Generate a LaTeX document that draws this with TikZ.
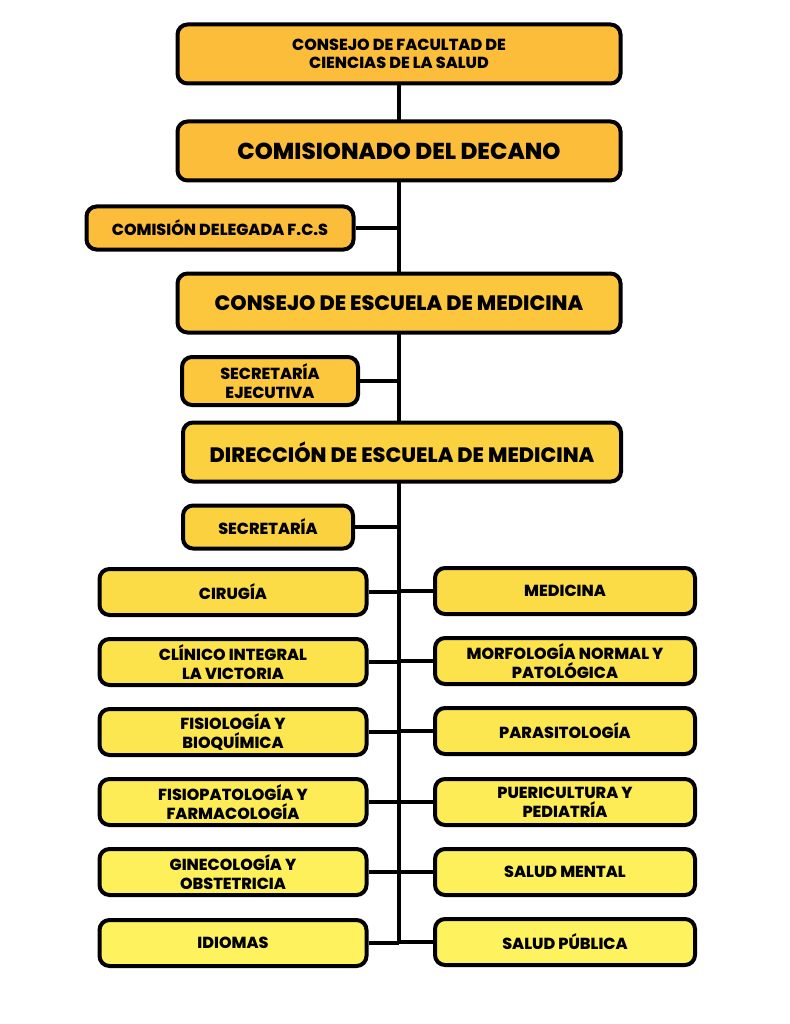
\documentclass[tikz,border=0pt]{standalone}
\usepackage{fontspec}
\setmainfont{Poppins}[BoldFont={Poppins ExtraBold}]
\usetikzlibrary{positioning,backgrounds}
\definecolor{orgA}{RGB}{251,189,58}
\definecolor{orgB}{RGB}{252,199,60}
\definecolor{orgC}{RGB}{252,209,64}
\definecolor{yelA}{RGB}{252,220,70}
\definecolor{yelB}{RGB}{252,226,75}
\definecolor{yelC}{RGB}{253,231,80}
\definecolor{yelD}{RGB}{253,236,85}
\definecolor{yelE}{RGB}{253,240,90}
\definecolor{yelF}{RGB}{254,243,94}
\tikzset{
  unit/.style={draw=black, line width=4pt, rounded corners=10pt, align=center,
    inner sep=0pt, font=\bfseries\fontsize{16}{19}\selectfont},
  bigunit/.style={unit, minimum width=443pt, minimum height=59pt,
    font=\bfseries\fontsize{20.8}{25}\selectfont},
  dept/.style={unit, minimum height=46pt},
  link/.style={line width=4pt}
}
\begin{document}
\begin{tikzpicture}[x=1pt, y=-1pt]
  \useasboundingbox (0,0) rectangle (789,1024);

  % top of the chart
  \node [bigunit, fill=orgA, font=\bfseries\fontsize{16}{18.5}\selectfont] (cfcs) at (399,54)
    {CONSEJO DE FACULTAD DE\\CIENCIAS DE LA SALUD};
  \node [bigunit, fill=orgA, font=\bfseries\fontsize{23}{25}\selectfont] (cdd) at (399,151)
    {COMISIONADO DEL DECANO};
  \node [unit, fill=orgA, minimum width=267pt, minimum height=43pt] (cdf) at (220,228)
    {COMISIÓN DELEGADA F.C.S};
  \node [bigunit, fill=orgB] (cem) at (399,303) {CONSEJO DE ESCUELA DE MEDICINA};
  \node [unit, fill=orgB, minimum width=176pt, minimum height=48pt] (sej) at (270,381)
    {SECRETARÍA\\EJECUTIVA};
  \node [bigunit, fill=orgC, minimum width=438pt] (dem) at (402,452)
    {DIRECCIÓN DE ESCUELA DE MEDICINA};
  \node [unit, fill=orgC, minimum width=170pt, minimum height=43pt] (sec) at (268,527)
    {SECRETARÍA};

  % departments, left column
  \node [dept, fill=yelA, minimum width=267pt] (cir) at (233,592) {CIRUGÍA};
  \node [dept, fill=yelB, minimum width=267pt] (cli) at (233,662) {CLÍNICO INTEGRAL\\LA VICTORIA};
  \node [dept, fill=yelC, minimum width=267pt] (fis) at (233,732) {FISIOLOGÍA Y\\BIOQUÍMICA};
  \node [dept, fill=yelD, minimum width=267pt] (fpf) at (233,802) {FISIOPATOLOGÍA Y\\FARMACOLOGÍA};
  \node [dept, fill=yelE, minimum width=267pt] (gin) at (233,872) {GINECOLOGÍA Y\\OBSTETRICIA};
  \node [dept, fill=yelF, minimum width=267pt] (idi) at (233,943) {IDIOMAS};

  % departments, right column
  \node [dept, fill=yelA, minimum width=260pt] (med) at (565,591) {MEDICINA};
  \node [dept, fill=yelB, minimum width=260pt] (mor) at (565,661) {MORFOLOGÍA NORMAL Y\\PATOLÓGICA};
  \node [dept, fill=yelC, minimum width=260pt] (par) at (565,731) {PARASITOLOGÍA};
  \node [dept, fill=yelD, minimum width=260pt] (pue) at (565,802) {PUERICULTURA Y\\PEDIATRÍA};
  \node [dept, fill=yelE, minimum width=260pt] (smn) at (565,872) {SALUD MENTAL};
  \node [dept, fill=yelF, minimum width=260pt] (spu) at (565,942) {SALUD PÚBLICA};

  \coordinate (foot) at (399,943);

  \begin{scope}[on background layer]
    % main line
    \draw [link] (cfcs.south) -- (foot);
    % side boxes
    \draw [link] (cdf.east) -- (cdf.east -| foot);
    \draw [link] (sej.east) -- (sej.east -| foot);
    \draw [link] (sec.east) -- (sec.east -| foot);
    % department rows
    \draw [link] (cir.east) -- (cir.east -| foot) (med.west) -- (med.west -| foot);
    \draw [link] (cli.east) -- (cli.east -| foot) (mor.west) -- (mor.west -| foot);
    \draw [link] (fis.east) -- (fis.east -| foot) (par.west) -- (par.west -| foot);
    \draw [link] (fpf.east) -- (fpf.east -| foot) (pue.west) -- (pue.west -| foot);
    \draw [link] (gin.east) -- (gin.east -| foot) (smn.west) -- (smn.west -| foot);
    \draw [link] (idi.east) -- (idi.east -| foot) (spu.west) -- (spu.west -| foot);
  \end{scope}

\end{tikzpicture}
\end{document}
